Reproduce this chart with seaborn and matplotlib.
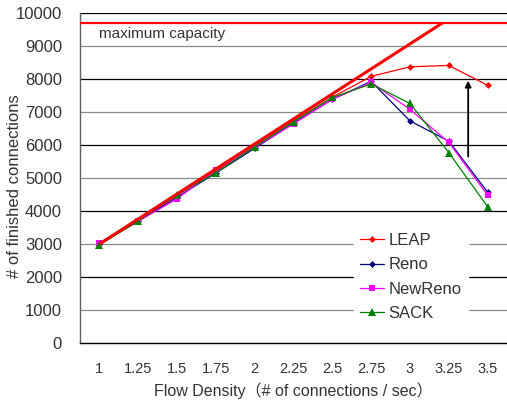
import matplotlib
matplotlib.use("Agg")
import matplotlib.pyplot as plt
import seaborn as sns
import pandas as pd
import numpy as np

# ---- data ----
flow_density = [1, 1.25, 1.5, 1.75, 2, 2.25, 2.5, 2.75, 3, 3.25, 3.5]
leap    = [3000, 3700, 4480, 5200, 5960, 6720, 7450, 8080, 8370, 8410, 7810]
reno    = [3000, 3690, 4420, 5150, 5900, 6660, 7380, 7930, 6730, 6120, 4570]
newreno = [3020, 3690, 4370, 5240, 5930, 6640, 7390, 7900, 7080, 6080, 4480]
sack    = [2970, 3700, 4500, 5150, 5950, 6700, 7440, 7850, 7260, 5770, 4130]
series_names = ["LEAP", "Reno", "NewReno", "SACK"]
ideal_x = [1, 3.21]
ideal_y = [3000, 9700]
max_capacity = 9700
arrow_x = 3.375
arrow_from = 5650
arrow_to = 7950
y_ticks = list(range(0, 10001, 1000))

df = pd.DataFrame({
    "x": flow_density * 4,
    "y": leap + reno + newreno + sack,
    "series": sum([[n] * len(flow_density) for n in series_names], []),
})

sns.set_style("white")
plt.rcParams["font.family"] = ["Liberation Sans", "Noto Sans CJK JP", "DejaVu Sans"]
txt = "#333333"

fig = plt.figure(figsize=(5.07, 4.03), dpi=100)
ax = fig.add_axes([80/507, 60/403, 427/507, 330/403])

# gridlines
for v in y_ticks[1:]:
    ax.axhline(v, color=("#000000" if (v // 1000) % 2 == 0 else "#8a8a8a"),
               lw=0.9, zorder=0)

palette = {"LEAP": "#ff0000", "Reno": "#000080", "NewReno": "#ff00ff", "SACK": "#008000"}
markers = {"LEAP": "D", "Reno": "D", "NewReno": "s", "SACK": "^"}
sizes = {"LEAP": 3.5, "Reno": 3.5, "NewReno": 5, "SACK": 5.5}
for name in series_names:
    sub = df[df.series == name]
    sns.lineplot(data=sub, x="x", y="y", ax=ax, color=palette[name],
                 marker=markers[name], markersize=sizes[name],
                 markeredgewidth=0, lw=0.9, label=name, zorder=3)

# ideal line and max capacity
ax.plot(ideal_x, ideal_y, color="#ff0000", lw=2.2, zorder=4, solid_capstyle="butt")
ax.axhline(max_capacity, color="#ff0000", lw=1.6, zorder=4)
ax.text(1 - 0.004, max_capacity - 130, "maximum capacity", color=txt,
        fontsize=11, va="top", ha="left")

ax.annotate("", xy=(arrow_x, arrow_to), xytext=(arrow_x, arrow_from),
            arrowprops=dict(arrowstyle="-|>", color="black", lw=1.3,
                            mutation_scale=9, shrinkA=0, shrinkB=0), zorder=5)

ax.set_xlim(0.875, 3.603)
ax.set_ylim(0, 10000)
ax.set_yticks(y_ticks)
ax.set_yticklabels([str(v) for v in y_ticks], fontsize=12, color=txt)
ax.tick_params(axis="y", length=0, pad=13)

ax.set_xticks(flow_density)
ax.set_xticklabels([f"{v:g}" for v in flow_density], fontsize=10.5, color=txt)
ax.set_xticks([v + 0.125 for v in flow_density], minor=True)
ax.tick_params(axis="x", which="major", length=0, pad=14)
ax.tick_params(axis="x", which="minor", direction="in", length=6, width=0.8, color="black")

for s in ["top", "right"]:
    ax.spines[s].set_visible(False)
ax.spines["left"].set_color("#606060")
ax.spines["bottom"].set_color("black")
ax.spines["left"].set_linewidth(1.0)
ax.spines["bottom"].set_linewidth(1.0)

ax.set_xlabel("Flow Density（# of connections / sec）", fontsize=11.5, color=txt, labelpad=4)
ax.set_ylabel("# of finished connections", fontsize=12, color=txt)
ax.yaxis.set_label_coords(22/507, 1 - 186/403, transform=fig.transFigure)

leg = ax.legend(loc="center", bbox_to_anchor=(411/507, 1 - 277/403),
                bbox_transform=fig.transFigure, frameon=True, fancybox=False,
                edgecolor="white", facecolor="white", framealpha=1,
                fontsize=12, handlelength=1.4, handletextpad=0.3,
                labelspacing=0.55, borderpad=0.4)
for t in leg.get_texts():
    t.set_color(txt)
leg.set_zorder(6)

fig.savefig("out.png", dpi=100)
